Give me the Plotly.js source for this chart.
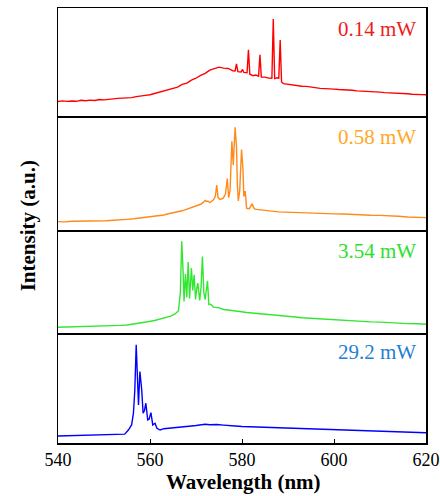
<!DOCTYPE html>
<html>
<head>
<meta charset="utf-8">
<script src="https://cdn.plot.ly/plotly-3.0.1.min.js"></script>
<style>html,body{margin:0;padding:0;background:#fff;}#chart{width:440px;height:496px;}</style>
</head>
<body>
<div id="chart"></div>
<script>
// Panel labels (excitation power)
const powerLabels = ["0.14 mW", "0.58 mW", "3.54 mW", "29.2 mW"];
const xTicks = [540, 560, 580, 600, 620];

// 0.14 mW spectrum
const wl1 = [540,541,542,543,544,545,546,547,548,549,550,551,552,553,554,555,556,557,558,559,560,561,562,563,564,565,566,567,568,569,570,571,572,573,574,575,576,577,578,578.5,578.8,579.1,579.8,580.1,580.4,581.1,581.4,581.7,582.4,583.0,583.6,583.9,584.2,585,585.8,586.5,586.8,587.1,587.6,588.0,588.3,588.6,589,590,591,592,593,594,595,596,597,598,599,600,601,602,603,604,605,606,607,608,609,610,611,612,613,614,615,616,617,618,619,620];
const int1 = [14,14.6,14.1,14.5,14.2,15.1,14.7,15.3,15.0,15.9,15.5,16.2,16.3,16.9,17.1,17.3,17.6,18.5,18.8,19.6,20.2,21.4,22.0,23.6,24.4,26.3,27.3,29.7,30.9,33.6,35.4,38.0,39.9,42.9,44.2,45.6,44.7,44.4,42.2,42.1,48.6,41.5,41.1,43.5,40.8,40.4,61.5,39.1,37.7,38.4,37.3,56.9,36.5,36.4,35.5,35.4,89.9,35.1,35.8,35.5,70.6,32,30.5,29.8,28.7,28.6,28.0,27.9,27.1,27.0,26.1,25.9,25.9,25.4,25.0,24.9,24.4,24.4,23.8,23.7,23.3,23.2,22.7,22.6,22.2,22.1,21.7,21.6,21.3,21.2,20.7,20.8,20.3,20.2];

// 0.58 mW spectrum
const wl2 = [540,541.5,543,544.5,546,547.5,549,550.5,552,553.5,555,556.5,558,559,560,561,562,563,564,565,566,567,568,569,570,571,571.5,572,572.3,572.6,573,573.4,573.8,574.2,574.5,574.8,575.2,575.6,575.9,576.4,576.8,577.1,577.4,577.8,578.1,578.5,578.8,579.0,579.2,579.5,579.9,580.2,580.4,580.7,581.0,581.6,581.9,582.2,582.5,582.7,583.2,584,585,586.5,588,590,592,594,596,598,600,602,604,606,608,610,612,614,616,618,620];
const int2 = [7.7,7.5,8.0,8.0,8.2,8.3,8.4,8.5,8.9,9.1,9.7,10.2,10.9,11.2,11.9,12.3,13.2,13.6,14.7,15.3,16.5,17.3,18.7,20.0,21.6,23.1,24.5,26.5,25.5,26,24.5,25.5,27,30,40.1,29,27.4,28,28.5,32,46,29,35,79,58,91.4,74.6,40,26,35,71.7,55,30,34.8,19.5,19.2,21,23.6,20.5,19,18.6,18.2,17.1,17.0,16.3,16.0,15.3,15.4,15.0,14.9,14.6,14.5,14.0,13.9,13.3,13.2,12.5,12.4,11.8,11.7,11.2];

// 3.54 mW spectrum
const wl3 = [540,541.5,543,544.5,546,547.5,549,550.5,552,553.5,555,556.5,558,559.5,561,562,563,564.5,565.5,566.2,566.6,566.9,567.2,567.4,567.7,568.0,568.3,568.6,569.0,569.3,569.6,569.9,570.2,570.4,570.8,571.1,571.4,571.7,572.0,572.3,572.5,572.8,573.2,573.8,575,576,577,578,579.5,581,583,585,587,589,591,593,595,597,599,600,602,604,606,608,610,612,614,616,618,620];
const int3 = [5.6,5.8,5.7,6.1,6.0,6.3,6.2,6.7,6.9,7.5,7.9,8.8,9.5,11.0,12.3,13.5,14.4,16.6,19,22,40,90.4,60,31,58,35,70,34,64,42,57.4,33,45,49.2,32,45,75.5,40,33,45,51.5,28,28.4,25.5,24.7,23.1,22.7,21.7,21.2,20.2,19.5,18.5,17.7,16.7,16.0,15.0,14.4,13.6,13.3,12.8,12.5,11.8,11.6,10.9,10.7,10.1,9.9,9.2,9.1,8.6];

// 29.2 mW spectrum
const wl4 = [540,541.5,543,544.5,546,547.5,549,550.5,552,553.5,554.5,555.3,556.0,556.4,556.7,557.0,557.2,557.5,557.8,558.2,558.5,558.8,559.1,559.5,559.8,560.2,560.6,561.1,561.5,562.2,563,563.6,564.5,565.5,566.5,567.5,569,570,571,572,573,574.5,576,577,578.5,580,582,584,586,589,591,593,596,598,600,602,604,607,610,612,614,616,618,620];
const int4 = [6.5,6.7,6.6,6.9,6.8,7.1,7.0,7.4,7.5,8.0,8.2,12,16.7,27.5,49,90.7,67.6,35,66,49,27.5,30,36.7,21.3,22,28,16.7,18.2,13.6,12,13.2,13.5,14.1,14.4,14.9,15.0,15.7,16.1,16.7,17.3,16.8,17.1,16.5,16.4,15.7,15.2,14.9,14.5,14.0,13.7,13.3,13.2,12.5,12.5,12.0,12.0,11.4,11.2,10.7,10.6,10.2,10.1,9.7,9.5];

const lineColors = ["#ff0000", "#ff8a1c", "#33e633", "#0000ff"];
const labelColors = ["#ee1c1c", "#ffa726", "#2ee02e", "#1f7fd4"];

const series = [[wl1,int1],[wl2,int2],[wl3,int3],[wl4,int4]];
const domains = [[0.750,1.0],[0.489,0.748],[0.253,0.486],[0.0,0.249]];
const labelY = [0.952, 0.704, 0.441, 0.210];

const traces = series.map((s, i) => ({
  x: s[0], y: s[1], type: "scatter", mode: "lines",
  line: {color: lineColors[i], width: 1.4},
  xaxis: i === 3 ? "x" : "x" + (4 - i),
  yaxis: i === 3 ? "y" : "y" + (4 - i),
  hoverinfo: "skip", showlegend: false
}));

const serif = "Liberation Serif";
const layout = {
  width: 440, height: 496,
  margin: {l: 58, r: 14, t: 8, b: 53},
  paper_bgcolor: "#fff", plot_bgcolor: "#fff",
  showlegend: false,
  annotations: [],
  font: {family: serif, color: "#000"}
};

for (let k = 0; k < 4; k++) {
  const panel = 3 - k;
  const xa = k === 0 ? "xaxis" : "xaxis" + (k + 1);
  const ya = k === 0 ? "yaxis" : "yaxis" + (k + 1);
  const yid = k === 0 ? "y" : "y" + (k + 1);
  const xid = k === 0 ? "x" : "x" + (k + 1);
  layout[xa] = {
    range: [540, 620], anchor: yid,
    showline: true, mirror: true, linecolor: "#000", linewidth: 1.5,
    showgrid: false, zeroline: false,
    tickvals: xTicks, ticktext: xTicks.map(String),
    showticklabels: k === 0,
    ticks: k === 0 ? "inside" : "", ticklen: 4, tickcolor: "#000",
    tickfont: {family: serif, size: 18, color: "#000"}
  };
  layout[ya] = {
    domain: domains[panel], range: [0, 100], anchor: xid,
    showline: true, mirror: true, linecolor: "#000", linewidth: 1.5,
    showgrid: false, zeroline: false, showticklabels: false, ticks: ""
  };
  layout.annotations.push({
    xref: "paper", yref: "paper", x: 0.978, y: labelY[panel],
    xanchor: "right", yanchor: "middle", showarrow: false,
    text: powerLabels[panel],
    font: {family: serif, size: 21, color: labelColors[panel]}
  });
}

layout.annotations.push({
  xref: "paper", yref: "paper", x: -0.082, y: 0.50,
  xanchor: "center", yanchor: "middle", showarrow: false, textangle: -90,
  text: "<b>Intensity (a.u.)</b>",
  font: {family: serif, size: 21, color: "#000"}
});
layout.annotations.push({
  xref: "paper", yref: "paper", x: 0.505, y: -0.09,
  xanchor: "center", yanchor: "middle", showarrow: false,
  text: "<b>Wavelength (nm)</b>",
  font: {family: serif, size: 21, color: "#000"}
});

Plotly.newPlot("chart", traces, layout, {displayModeBar: false, staticPlot: true});
</script>
</body>
</html>
